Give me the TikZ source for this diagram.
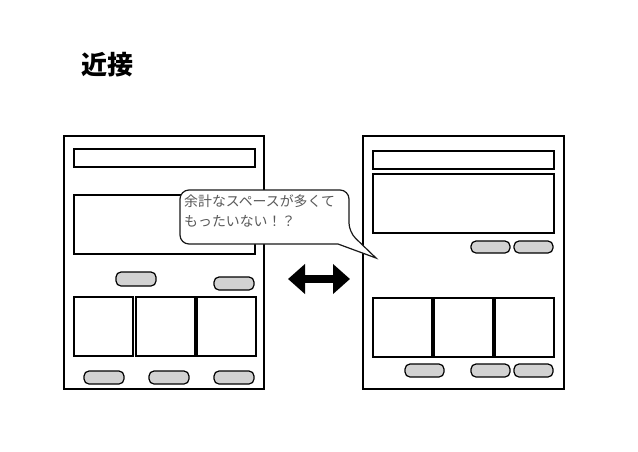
\documentclass[tikz,border=0pt]{standalone}
\usepackage{fontspec}
\newfontfamily\jpfont{Noto Sans CJK JP}
\usetikzlibrary{arrows.meta}

\begin{document}
\begin{tikzpicture}[x=1pt, y=-1pt,
		frame/.style={draw, line width=1.2pt},
		btn/.style={draw, line width=1.2pt, fill=gray!35, rounded corners=5pt}]
				\useasboundingbox (0,0) rectangle (638,451);
				\node[font=\jpfont\bfseries\fontsize{26}{30}\selectfont] (title) at (107,65) {近接};
				\draw[frame] (64,136) rectangle (264,389);
				\draw[frame] (74,149) rectangle (255,167);
				\draw[frame] (74,195) rectangle (255,254);
				\draw[btn] (116,272) rectangle (156,286);
				\draw[btn] (214,277) rectangle (254,290);
				\foreach \x in {74,136,197} \draw[frame] (\x,297) rectangle ++(59,59);
				\foreach \x in {84,149,214} \draw[btn] (\x,371) rectangle ++(40,13);
				\draw[frame] (363,136) rectangle (564,389);
				\draw[frame] (373,151) rectangle (554,169);
				\draw[frame] (373,174) rectangle (554,233);
				\foreach \x in {471,514} \draw[btn] (\x,241) rectangle ++(39,12);
				\foreach \x in {373,434,495} \draw[frame] (\x,298) rectangle ++(59,59);
				\foreach \x in {405,471,514} \draw[btn] (\x,364) rectangle ++(39,13);
				\filldraw[draw=black!90, fill=white, line width=1.2pt, rounded corners=9pt] (180,217) -- (180,190) -- (349,190) -- (349,232) [sharp corners] -- (376,258) -- (338,244) [rounded corners=9pt] -- (180,244) -- cycle;
				\node[anchor=north west, inner sep=0pt, align=left, text=black!65, font=\jpfont\fontsize{13.9}{20}\selectfont] (talk) at (184,195) {余計なスペースが多くて\\もったいない！？};
				\coordinate (arrL) at (288,279);
				\coordinate (arrR) at (350,279);
				\draw[line width=8pt, {Triangle[length=17pt,width=29pt]}-{Triangle[length=17pt,width=29pt]}] (arrL) -- (arrR);
			\end{tikzpicture}
\end{document}
